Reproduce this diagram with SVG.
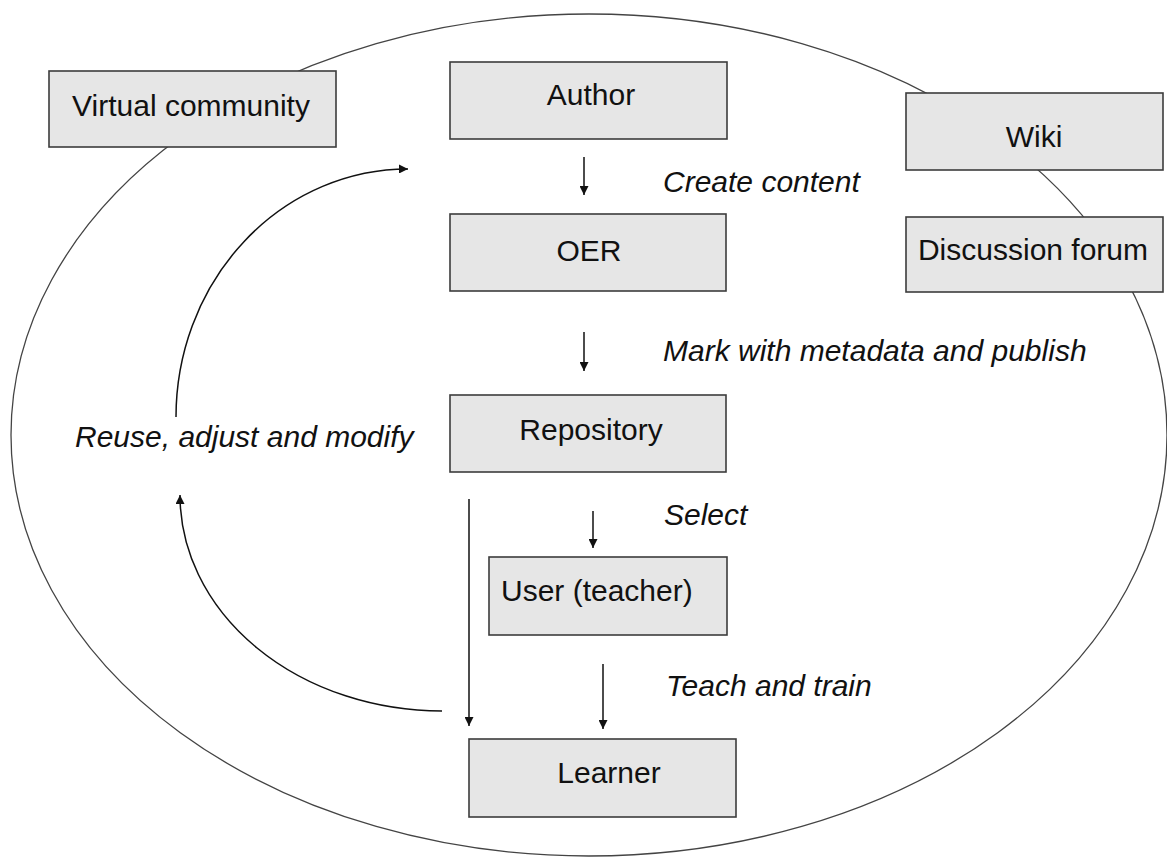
<svg xmlns="http://www.w3.org/2000/svg" width="1167" height="858" viewBox="0 0 1167 858">
<style>
.box{fill:#e6e6e6;stroke:#3c3c3c;stroke-width:1.6}
.lbl{font-family:"Liberation Sans",Arial,sans-serif;font-size:30px;fill:#111}
.it{font-family:"Liberation Sans",Arial,sans-serif;font-size:30px;font-style:italic;fill:#111}
.con{fill:none;stroke:#111;stroke-width:1.5}
.ring{fill:none;stroke:#444;stroke-width:1.3}
</style>
<defs>
<marker id="ah" viewBox="0 0 10 10" refX="10" refY="5" markerWidth="10" markerHeight="9" markerUnits="userSpaceOnUse" orient="auto">
<path d="M0,0 L10,5 L0,10 z" fill="#111"/>
</marker>
</defs>
<rect width="1167" height="858" fill="#fff"/>
<ellipse id="community-ring" class="ring" cx="589" cy="435" rx="578" ry="421"/>
<g id="connectors">
<path class="con" d="M584,157 L584,195" marker-end="url(#ah)"/>
<path class="con" d="M584,332 L584,371" marker-end="url(#ah)"/>
<path class="con" d="M593,511 L593,548" marker-end="url(#ah)"/>
<path class="con" d="M603,664 L603,729" marker-end="url(#ah)"/>
<path class="con" d="M469,499 L469,726" marker-end="url(#ah)"/>
<path class="con" d="M442,711 A262,216 0 0 1 180,495" marker-end="url(#ah)"/>
<path class="con" d="M176,417 A232,248 0 0 1 408,169" marker-end="url(#ah)"/>
<text class="it" x="663" y="192">Create content</text>
<text class="it" x="663" y="361">Mark with metadata and publish</text>
<text class="it" x="664" y="525">Select</text>
<text class="it" x="666" y="696">Teach and train</text>
<text class="it" x="75" y="447">Reuse, adjust and modify</text>
</g>
<g id="virtual-community"><rect class="box" x="49" y="71" width="287" height="76"/><text class="lbl" x="191" y="116" text-anchor="middle">Virtual community</text></g>
<g id="author"><rect class="box" x="450" y="62" width="277" height="77"/><text class="lbl" x="591" y="105" text-anchor="middle">Author</text></g>
<g id="oer"><rect class="box" x="450" y="214" width="276" height="77"/><text class="lbl" x="589" y="261" text-anchor="middle">OER</text></g>
<g id="wiki"><rect class="box" x="906" y="93" width="257" height="77"/><text class="lbl" x="1034" y="147" text-anchor="middle">Wiki</text></g>
<g id="discussion-forum"><rect class="box" x="906" y="217" width="257" height="75"/><text class="lbl" x="1033" y="260" text-anchor="middle">Discussion forum</text></g>
<g id="repository"><rect class="box" x="450" y="395" width="276" height="77"/><text class="lbl" x="591" y="440" text-anchor="middle">Repository</text></g>
<g id="user-teacher"><rect class="box" x="489" y="557" width="238" height="78"/><text class="lbl" x="501" y="601">User (teacher)</text></g>
<g id="learner"><rect class="box" x="469" y="739" width="267" height="78"/><text class="lbl" x="609" y="783" text-anchor="middle">Learner</text></g>
</svg>
